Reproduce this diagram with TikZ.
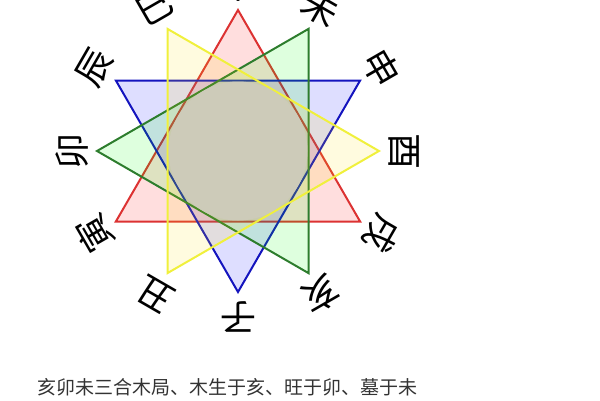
\documentclass[tikz,border=0pt]{standalone}
\usepackage{fontspec}
\newfontfamily\cjk{Noto Sans CJK SC}
\usetikzlibrary{calc}
\tikzset{
  branch/.style={font=\cjk\fontsize{36}{36}\selectfont, inner sep=0pt},
  tri/.style={line width=2pt, line join=miter, fill opacity=0.13},
  note/.style={font=\cjk\fontsize{19}{19}\selectfont, text=black!80, inner sep=0pt, anchor=base west}
}
\begin{document}
\begin{tikzpicture}[x=1pt,y=1pt]
\useasboundingbox (0,0) rectangle (600,400);
\coordinate (O) at (238,249);
\foreach \n/\c [count=\i] in {子/zi,丑/chou,寅/yin,卯/mao,辰/chen,巳/si,午/wu,未/wei,申/shen,酉/you,戌/xu,亥/hai}{
  \pgfmathsetmacro{\a}{300-30*\i}
  \coordinate (v-\c) at ($(O)+(\a:141)$);
  \node[branch, rotate=\a-90] (l-\c) at ($(O)+(\a:166)$) {\n};
}
\draw[tri, draw={rgb,255:red,220;green,50;blue,50}, fill=red] (v-wu) -- (v-yin) -- (v-xu) -- cycle;
\draw[tri, draw={rgb,255:red,20;green,20;blue,190}, fill=blue] (v-shen) -- (v-zi) -- (v-chen) -- cycle;
\draw[tri, draw={rgb,255:red,45;green,125;blue,45}, fill=green] (v-hai) -- (v-mao) -- (v-wei) -- cycle;
\draw[tri, draw={rgb,255:red,240;green,240;blue,60}, fill=yellow!80!orange] (v-si) -- (v-you) -- (v-chou) -- cycle;
\fill[fill={rgb,255:red,205;green,203;blue,185}] (O) circle (69.5);
\node[note] (caption) at (37,6) {亥卯未三合木局、木生于亥、旺于卯、墓于未};
\end{tikzpicture}
\end{document}
